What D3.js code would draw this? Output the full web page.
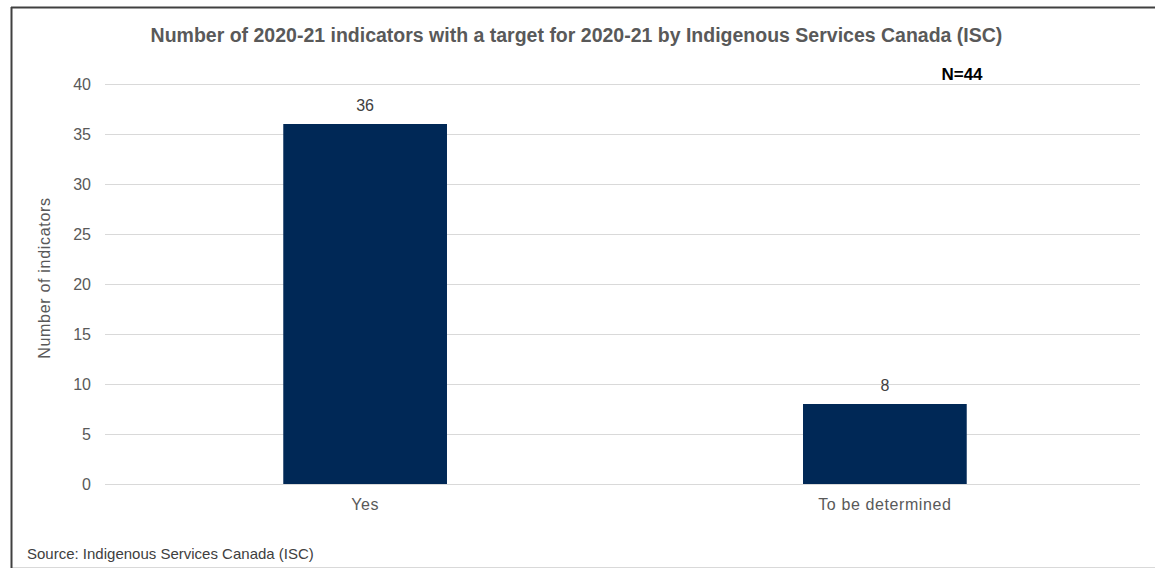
<!DOCTYPE html>
<html><head><meta charset="utf-8">
<script src="https://cdn.jsdelivr.net/npm/d3@7"></script>
<style>body{margin:0;background:#fff;font-family:"Liberation Sans",Arial,sans-serif;}</style>
</head><body>
<svg id="c" width="1155" height="570"></svg>
<script>
const categories = ["Yes", "To be determined"];
const values = [36, 8];
const yTicks = [0, 5, 10, 15, 20, 25, 30, 35, 40];
const title = "Number of 2020-21 indicators with a target for 2020-21 by Indigenous Services Canada (ISC)";
const note = "N=44";
const source = "Source: Indigenous Services Canada (ISC)";
const yTitle = "Number of indicators";

(function () {
const FONT = "Liberation Sans, Arial, sans-serif";
const svg = d3.select("#c");
svg.append("rect").attr("x", 11.5).attr("y", 7.5).attr("width", 1150).attr("height", 560)
  .attr("fill", "#fff").attr("stroke", "#d9d9d9");
svg.append("line").attr("x1", 11.5).attr("x2", 11.5).attr("y1", 7).attr("y2", 568).attr("stroke", "#404040").attr("stroke-width", 2);
svg.append("line").attr("x1", 11).attr("x2", 1155).attr("y1", 7.5).attr("y2", 7.5).attr("stroke", "#404040").attr("stroke-width", 2);

const mLeft = 105, mRight = 1140, mTop = 84, mBottom = 484;
const x = d3.scaleBand().domain(categories).range([mLeft, 1145]).paddingInner(0.685).paddingOuter(0.343);
const y = d3.scaleLinear().domain([0, 40]).range([mBottom, mTop]);

const yAxis = svg.append("g").attr("transform", `translate(${mLeft},0)`)
  .call(d3.axisLeft(y).tickValues(yTicks).tickSize(-(mRight - mLeft)).tickPadding(14));
yAxis.select(".domain").remove();
yAxis.selectAll(".tick line").attr("stroke", "#d9d9d9");
yAxis.selectAll(".tick text").attr("fill", "#595959").style("font-size", "16px").style("font-family", FONT);

svg.append("g").selectAll("rect").data(values).join("rect")
  .attr("x", (d, i) => x(categories[i])).attr("width", x.bandwidth())
  .attr("y", d => y(d)).attr("height", d => y(0) - y(d)).attr("fill", "#002856");

svg.append("g").selectAll("text").data(values).join("text")
  .attr("x", (d, i) => x(categories[i]) + x.bandwidth() / 2).attr("y", d => y(d) - 13)
  .attr("text-anchor", "middle").attr("fill", "#404040").style("font-size", "16px").style("font-family", FONT).text(d => d);

const xAxis = svg.append("g").attr("transform", `translate(0,${mBottom})`)
  .call(d3.axisBottom(x).tickSize(0).tickPadding(15));
xAxis.select(".domain").remove();
xAxis.selectAll(".tick text").attr("fill", "#595959").style("font-size", "16px").style("font-family", FONT)
  .style("letter-spacing", "0.6px");

svg.append("text").attr("x", 576.5).attr("y", 42).attr("text-anchor", "middle")
  .attr("fill", "#595959").style("font-size", "19.5px").style("font-weight", "bold").style("font-family", FONT).text(title);
svg.append("text").attr("x", 962).attr("y", 80).attr("text-anchor", "middle")
  .attr("fill", "#000").style("font-size", "17px").style("font-weight", "bold").style("font-family", FONT).text(note);
svg.append("text").attr("transform", `translate(50,278) rotate(-90)`).attr("text-anchor", "middle")
  .attr("fill", "#595959").style("font-size", "16px").style("letter-spacing", "0.7px").style("font-family", FONT).text(yTitle);
svg.append("text").attr("x", 27).attr("y", 559).attr("fill", "#404040").style("font-size", "15px").style("font-family", FONT).text(source);
})();
</script>
</body></html>
